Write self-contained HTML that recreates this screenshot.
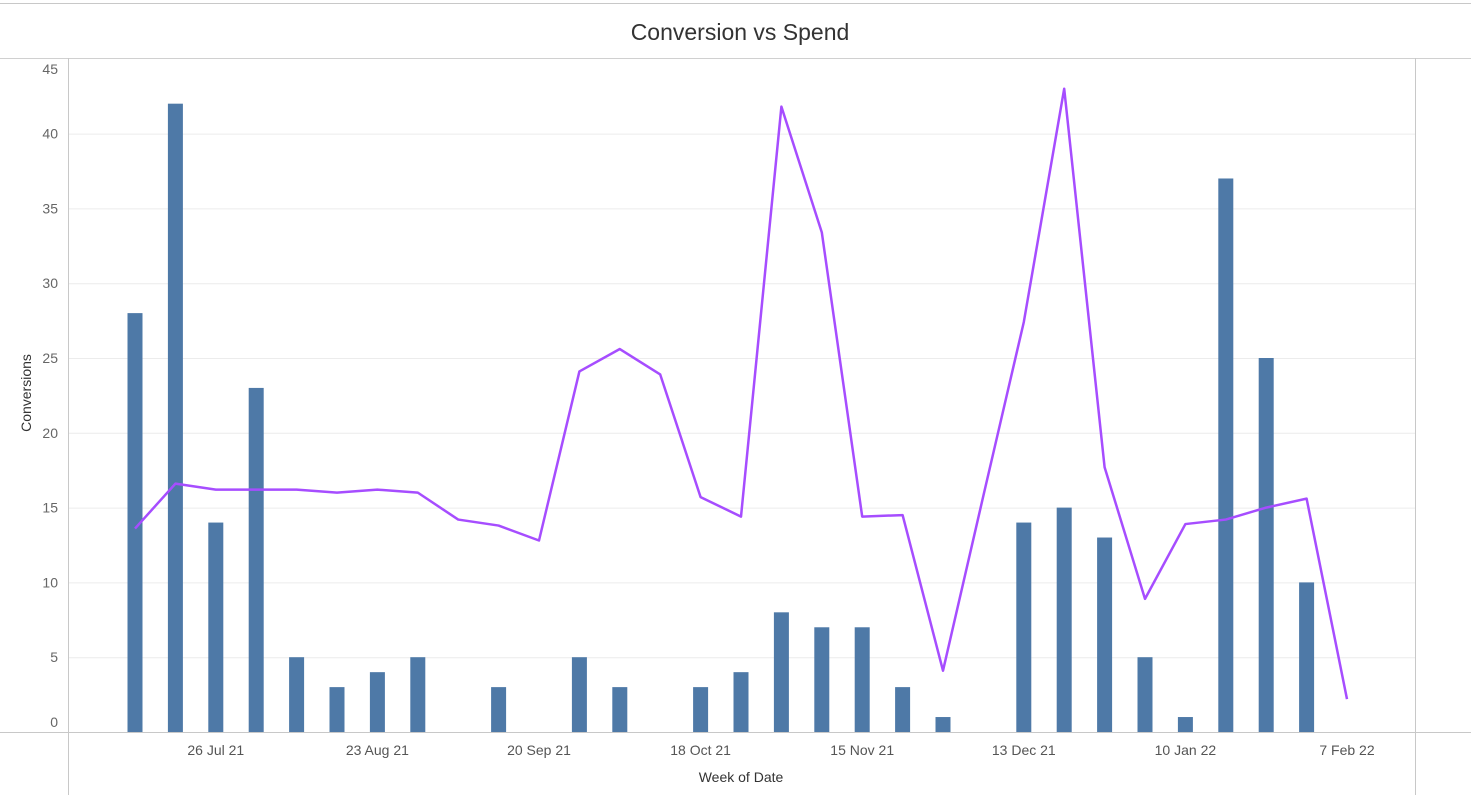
<!DOCTYPE html>
<html><head><meta charset="utf-8"><style>
body{margin:0;background:#fff;font-family:"Liberation Sans",Arial,sans-serif;}
svg{display:block}
</style></head><body>
<svg width="1471" height="801" xmlns="http://www.w3.org/2000/svg">
<line x1="0" y1="3.5" x2="1471" y2="3.5" stroke="#c8c8c8"/>
<text x="740" y="40" text-anchor="middle" font-size="23" fill="#333">Conversion vs Spend</text>
<line x1="0" y1="58.5" x2="1471" y2="58.5" stroke="#d0d0d0"/>
<g id="grid"></g>
<g id="yticks"></g>
<g id="bars"></g>
<polyline id="line" fill="none" stroke="#a64dff" stroke-width="2.5" stroke-linejoin="round"/>
<line x1="68.5" y1="58" x2="68.5" y2="795" stroke="#c8c8c8"/>
<line x1="1415.5" y1="58" x2="1415.5" y2="795" stroke="#c8c8c8"/>
<line x1="0" y1="732.5" x2="1471" y2="732.5" stroke="#c8c8c8"/>
<g id="xticks"></g>
<text x="741" y="782" text-anchor="middle" font-size="14" fill="#333">Week of Date</text>
<text transform="translate(31,393) rotate(-90)" text-anchor="middle" font-size="14" fill="#333">Conversions</text>
</svg>
<script>
const conversions=[28,42,14,23,5,3,4,5,0,3,0,5,3,0,3,4,8,7,7,3,1,0,14,15,13,5,1,37,25,10,0];
const spend=[13.6,16.6,16.2,16.2,16.2,16.0,16.2,16.0,14.2,13.8,12.8,24.1,25.6,23.9,15.7,14.4,41.8,33.4,14.4,14.5,4.1,15.8,27.4,43.0,17.7,8.9,13.9,14.2,15.0,15.6,2.2];
const yTicks=[0,5,10,15,20,25,30,35,40,45];
const xTickIdx=[2,6,10,14,18,22,26,30];
const xTickLabels=["26 Jul 21","23 Aug 21","20 Sep 21","18 Oct 21","15 Nov 21","13 Dec 21","10 Jan 22","7 Feb 22"];
const NS="http://www.w3.org/2000/svg";
const x=i=>135+i*40.4;
const y=v=>732-v*14.96;
function mk(t,a,p){const e=document.createElementNS(NS,t);for(const k in a)e.setAttribute(k,a[k]);p.appendChild(e);return e;}
const grid=document.getElementById('grid'),yt=document.getElementById('yticks');
yTicks.forEach(v=>{
 if(v>0&&v<45){const l=mk('line',{x1:68,x2:1415,y1:y(v)+.5,y2:y(v)+.5,stroke:'#ececec'},grid);
 
 }
 let ty=y(v)+5; if(v===45)ty=y(v)+15; if(v===0)ty=y(v)-5;
 const t=mk('text',{x:58,y:ty,'text-anchor':'end','font-size':14,fill:'#666'},yt);t.textContent=v;
 
 
});
const bars=document.getElementById('bars');
conversions.forEach((v,i)=>{if(v<=0)return;
 const r=mk('rect',{x:x(i)-7.5,y:y(v),width:15,height:732-y(v),fill:'#4e79a7'},bars);
 
 
});
document.getElementById('line').setAttribute('points',spend.map((v,i)=>x(i)+','+y(v)).join(' '));
const xt=document.getElementById('xticks');
xTickIdx.forEach((idx,k)=>{
 const t=mk('text',{x:x(idx),y:755,'text-anchor':'middle','font-size':14,fill:'#555'},xt);t.textContent=xTickLabels[k];
 
 
});
</script>
</body></html>
